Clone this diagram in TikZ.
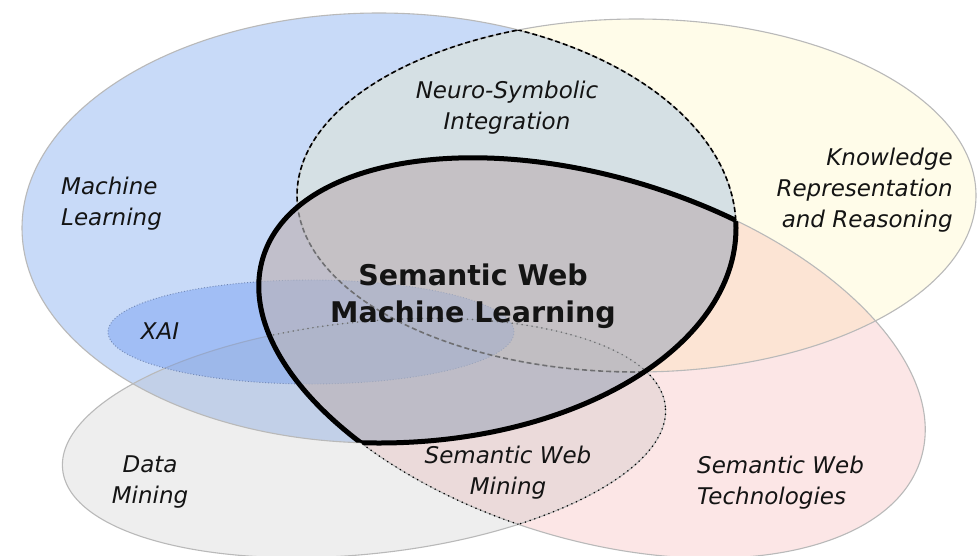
\documentclass[tikz,border=0pt]{standalone}
\usepackage{fontspec}
\setmainfont{DejaVu Sans}
\definecolor{mlblue}{RGB}{74,134,232}
\definecolor{kryellow}{RGB}{255,245,170}
\definecolor{swtpink}{RGB}{240,120,120}
\definecolor{dmgray}{RGB}{170,170,170}
\definecolor{rimgray}{RGB}{185,185,185}
\definecolor{xaiblue}{RGB}{90,140,240}
\definecolor{swmlgray}{RGB}{185,185,190}
\definecolor{ink}{RGB}{20,20,20}
\begin{document}
\begin{tikzpicture}[x=1pt,y=-1pt,
  lbl/.style={font=\fontsize{23}{31}\selectfont\itshape, inner sep=0pt, text=ink},
  boldlbl/.style={font=\fontsize{28.5}{37}\selectfont\bfseries, inner sep=0pt, text=ink},
  rim/.style={draw=rimgray, line width=1.1pt},
  lensline/.style={draw=black, line width=1.6pt, dash pattern=on 5pt off 3pt},
  swmline/.style={draw=black, line width=1.7pt, line cap=round, dash pattern=on 0pt off 5pt},
  heavy/.style={draw=black, line width=5pt, line join=round},
  swtrot/.style={rotate around={-17:(592,358)}},
  dmrot/.style={rotate around={6:(364,438)}}]
\fill[white] (0,0) rectangle (977,555);
\useasboundingbox (0,0) rectangle (977,555);
% base fills
\fill[mlblue, fill opacity=0.3] (379,228) ellipse [x radius=357pt, y radius=215pt];
\fill[kryellow, fill opacity=0.25] (636.5,195.5) ellipse [x radius=339.5pt, y radius=176.5pt];
\fill[swtpink, fill opacity=0.18, swtrot] (592,358) ellipse [x radius=344pt, y radius=181pt];
\fill[dmgray, fill opacity=0.2, dmrot] (364,438) ellipse [x radius=303pt, y radius=116pt];
% rims
\draw[rim] (379,228) ellipse [x radius=357pt, y radius=215pt];
\draw[rim] (636.5,195.5) ellipse [x radius=339.5pt, y radius=176.5pt];
\draw[rim, swtrot] (592,358) ellipse [x radius=344pt, y radius=181pt];
\draw[rim, dmrot] (364,438) ellipse [x radius=303pt, y radius=116pt];
% XAI
\fill[xaiblue, fill opacity=0.35] (311,332) ellipse [x radius=203pt, y radius=52pt];
\draw[xaiblue!45!gray, line width=0.9pt, dotted] (311,332) ellipse [x radius=203pt, y radius=52pt];
% Neuro-symbolic lens (ML and KR)
\begin{scope}
  \clip (379,228) ellipse [x radius=357pt, y radius=215pt];
  \draw[lensline] (636.5,195.5) ellipse [x radius=339.5pt, y radius=176.5pt];
\end{scope}
\begin{scope}
  \clip (636.5,195.5) ellipse [x radius=339.5pt, y radius=176.5pt];
  \draw[lensline] (379,228) ellipse [x radius=357pt, y radius=215pt];
\end{scope}
% Semantic web mining (DM and SWT)
\begin{scope}
  \clip[swtrot] (592,358) ellipse [x radius=344pt, y radius=181pt];
  \draw[swmline, dmrot] (364,438) ellipse [x radius=303pt, y radius=116pt];
\end{scope}
\begin{scope}
  \clip[dmrot] (364,438) ellipse [x radius=303pt, y radius=116pt];
  \draw[swmline, swtrot] (592,358) ellipse [x radius=344pt, y radius=181pt];
\end{scope}
% Semantic Web Machine Learning (ML and SWT)
\begin{scope}
  \clip (379,228) ellipse [x radius=357pt, y radius=215pt];
  \fill[swmlgray, fill opacity=0.6, swtrot] (592,358) ellipse [x radius=344pt, y radius=181pt];
  \draw[heavy, swtrot] (592,358) ellipse [x radius=344pt, y radius=181pt];
\end{scope}
\begin{scope}
  \clip[swtrot] (592,358) ellipse [x radius=344pt, y radius=181pt];
  \draw[heavy] (379,228) ellipse [x radius=357pt, y radius=215pt];
\end{scope}
% labels
\node[lbl, align=left, anchor=west] (ml) at (61,203.5) {Machine\\Learning};
\node[lbl, align=center] (nsi) at (507,108) {Neuro-Symbolic\\Integration};
\node[lbl, align=right, anchor=east] (kr) at (953,190) {Knowledge\\Representation\\and Reasoning};
\node[boldlbl, align=center] (swml) at (473,296) {Semantic Web\\Machine Learning};
\node[lbl] (xai) at (160,331.6) {XAI};
\node[lbl, align=center] (dm) at (150,482) {Data\\Mining};
\node[lbl, align=center] (swm) at (508,473) {Semantic Web\\Mining};
\node[lbl, align=left, anchor=west] (swt) at (697,483) {Semantic Web\\Technologies};
\end{tikzpicture}
\end{document}
